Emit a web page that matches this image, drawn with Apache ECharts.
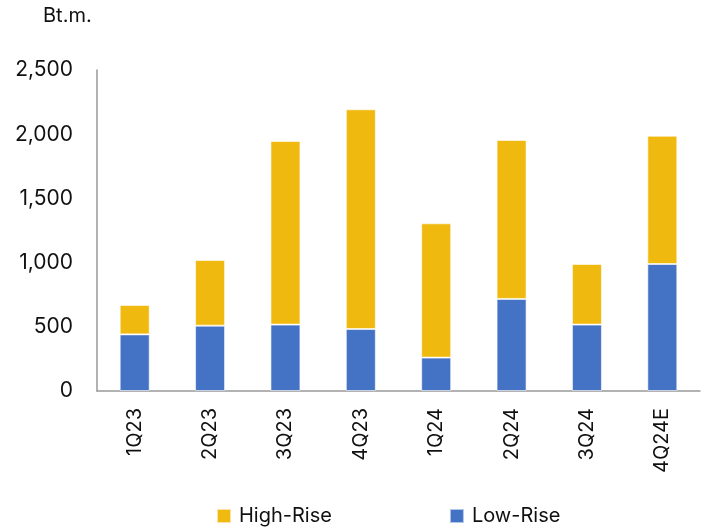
<!DOCTYPE html>
<html>
<head>
<meta charset="utf-8">
<script src="https://cdn.jsdelivr.net/npm/echarts@6/dist/echarts.min.js"></script>
<style>html,body{margin:0;padding:0;background:#fff;}#c{width:708px;height:530px;}</style>
</head>
<body>
<div id="c"></div>
<script>
const categories = ['1Q23','2Q23','3Q23','4Q23','1Q24','2Q24','3Q24','4Q24E'];
const lowRise = [441, 509, 517, 483, 260, 717, 517, 989];
const highRise = [229, 511, 1430, 1711, 1046, 1238, 472, 999];
const yTicks = [0, 500, 1000, 1500, 2000, 2500];

const FONT = 'Inter, Roboto, sans-serif';
const chart = echarts.init(document.getElementById('c'), null, {renderer: 'canvas'});
chart.setOption({
  animation: false,
  textStyle: {fontFamily: FONT},
  grid: {left: 97, right: 8, top: 70, bottom: 139, containLabel: false},
  graphic: [{
    type: 'text', left: 43, top: 6,
    style: {text: 'Bt.m.', font: '20px ' + FONT, fill: '#111'}
  }],
  legend: {
    data: ['High-Rise', 'Low-Rise'],
    top: 501, left: 211,
    itemWidth: 14, itemHeight: 14, itemGap: 117,
    icon: 'rect',
    textStyle: {fontSize: 20, color: '#111', fontFamily: FONT, padding: [0, 0, 0, 3]}
  },
  xAxis: {
    type: 'category', data: categories,
    axisLine: {lineStyle: {color: '#999', width: 1.5}},
    axisTick: {show: false},
    axisLabel: {rotate: 90, fontSize: 20, color: '#111', margin: 17, fontFamily: FONT}
  },
  yAxis: {
    type: 'value', min: yTicks[0], max: yTicks[yTicks.length - 1], interval: 500,
    axisLine: {show: true, lineStyle: {color: '#999', width: 1.5}},
    axisTick: {show: false},
    splitLine: {show: false},
    axisLabel: {
      fontSize: 21, color: '#111', margin: 24, fontFamily: FONT,
      formatter: v => v.toLocaleString('en-US')
    }
  },
  series: [
    {name: 'Low-Rise', type: 'bar', stack: 't', data: lowRise, barWidth: 30,
     itemStyle: {color: '#4472C4', borderColor: 'rgba(255,255,255,0.6)', borderWidth: 1}},
    {name: 'High-Rise', type: 'bar', stack: 't', data: highRise, barWidth: 30,
     itemStyle: {color: '#F0B90F', borderColor: 'rgba(255,255,255,0.6)', borderWidth: 1}}
  ]
});
</script>
</body>
</html>
